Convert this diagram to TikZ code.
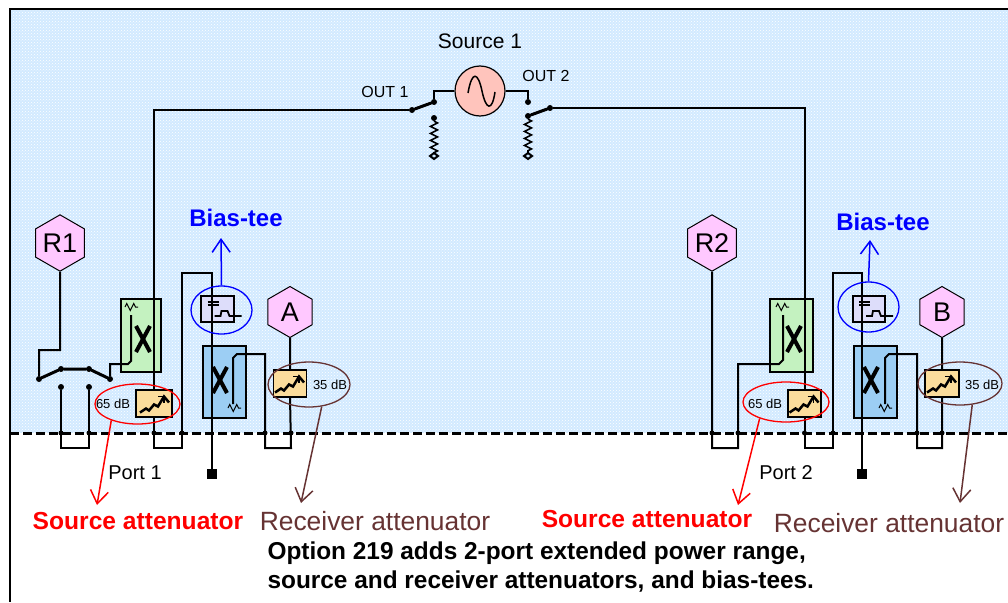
\documentclass[tikz,border=0pt]{standalone}
\usepackage{fontspec}
\usepackage{xcolor}
\setmainfont{Liberation Sans}
\usetikzlibrary{arrows.meta,shapes.geometric,decorations.pathmorphing,patterns}

\definecolor{skyfill}{HTML}{D2EAFF}
\definecolor{greenbox}{HTML}{C4F2C0}
\definecolor{bluebox}{HTML}{9CCEF4}
\definecolor{attfill}{HTML}{FBDD9C}
\definecolor{teefill}{HTML}{DDDDFA}
\definecolor{hexfill}{HTML}{FFC8FF}
\definecolor{srcfill}{HTML}{FFC4BC}
\definecolor{brownish}{HTML}{663333}

\tikzset{
  wire/.style={line width=2pt, color=black},
  armline/.style={line width=3pt, color=black, line cap=round},
  resist/.style={line width=1.6pt, decorate, decoration={zigzag, amplitude=3.5pt, segment length=7pt}},
  contact/.style={circle, fill=black, inner sep=0pt, minimum size=6pt},
  hexnode/.style={regular polygon, regular polygon sides=6, shape border rotate=30, draw=black, line width=1pt,
    fill=hexfill, minimum size=51pt, inner sep=0pt, font=\fontsize{27}{30}\selectfont},
  coupler/.style={rectangle, draw=black, line width=1.5pt, inner sep=0pt},
  attbox/.style={rectangle, draw=black, line width=1.2pt, fill=attfill, inner sep=0pt, minimum height=27pt},
  teebox/.style={rectangle, draw=black, line width=1.2pt, fill=teefill, inner sep=0pt, minimum height=26pt},
  loopred/.style={ellipse, draw=red, line width=1.3pt, inner sep=0pt},
  loopblue/.style={ellipse, draw=blue, line width=1.3pt, inner sep=0pt},
  loopbrown/.style={ellipse, draw=brownish, line width=1.3pt, inner sep=0pt},
  barbtip/.style={-{Straight Barb[length=13pt,width=18pt]}},
  smalltext/.style={font=\fontsize{16}{18}\selectfont},
  porttext/.style={font=\fontsize{20}{22}\selectfont},
  dbtext/.style={font=\fontsize{13}{15}\selectfont},
  teetext/.style={font=\bfseries\fontsize{24}{26}\selectfont, text=blue},
  srclabel/.style={font=\bfseries\fontsize{24.6}{27}\selectfont, text=red},
  rcvlabel/.style={font=\fontsize{26.4}{29}\selectfont, text=brownish},
  notetext/.style={font=\bfseries\fontsize{24.4}{29}\selectfont, align=left, anchor=north west},
  crossmark/.pic={
    \draw[line width=4pt] (-7,-13) -- (7,13);
    \draw[line width=4pt] (7,-13) -- (-7,13);
  },
  attmark/.pic={
    \draw[line width=2.5pt] (-15,9) -- (-9,5) -- (-6,7) -- (-1,1) -- (3,3) -- (9,-7) -- (14,-1);
    \draw[line width=1.5pt] (3,-7) -- (9,-7) -- (9,-1);
  },
  teemark/.pic={
    \draw[line width=1.2pt] (-10,-7) -- (1,-7) (-10,-4) -- (1,-4);
    \draw[line width=1.8pt] (-3,7) -- (3,7) -- (4,2) -- (10,2) -- (12,7) -- (24,7);
  },
}

\begin{document}
\begin{tikzpicture}[x=1pt, y=-1pt]
  \useasboundingbox (0,0) rectangle (1008,602);
  \fill[color=skyfill] (10,10) rectangle (1008,433);
  \fill[pattern=crosshatch dots, pattern color=white] (10,10) rectangle (1008,433);
  \draw[line width=2pt] (1008,9) -- (10,9) -- (10,602); % frame

  % boxes the wires run across
  \node[coupler, fill=greenbox, minimum width=40pt, minimum height=73pt] (cplS1) at (141,335.5) {};
  \node[coupler, fill=bluebox, minimum width=43pt, minimum height=72pt] (cplR1) at (224.5,382) {};
  \node[teebox, minimum width=33pt] (tee1) at (217.5,309) {};
  \node[coupler, fill=greenbox, minimum width=43pt, minimum height=73pt] (cplS2) at (791.5,335.5) {};
  \node[coupler, fill=bluebox, minimum width=43pt, minimum height=72pt] (cplR2) at (875.5,382) {};
  \node[teebox, minimum width=32pt] (tee2) at (869,309) {};

  % source
  \node[circle, draw=black, line width=1.2pt, fill=srcfill, minimum size=50pt, inner sep=0pt] (src) at (480,91) {};
  \draw[line width=1.5pt] (468,93) .. controls (472,70) and (478,72) .. (482,91) .. controls (486,110) and (492,112) .. (495,92);
  \node[font=\fontsize{21}{23}\selectfont] (srcname) at (480,41) {Source 1};
  \node[smalltext] (out1) at (385,92) {OUT 1};
  \node[smalltext] (out2) at (546,76) {OUT 2};
  \node[contact] (swO1) at (412,110) {};
  \node[contact] (swS1) at (434,102) {};
  \node[contact] (swT1) at (434,118) {};
  \node[contact] (swO2) at (550,108) {};
  \node[contact] (swS2) at (528,102) {};
  \node[contact] (swT2) at (528,116) {};
  \coordinate (gnd1) at (434,153);
  \coordinate (gnd2) at (528,153);
  \draw[wire] (src.west) -| (swS1);
  \draw[wire] (src.east) -| (swS2);
  \draw[armline] (swO1) -- (swS1);
  \draw[armline] (swT2) -- (swO2);
  \draw[resist] (swT1) -- (gnd1);
  \draw[resist] (swT2) -- (gnd2);
  \draw[wire, fill=skyfill] (gnd1) -- ++(-4,3) -- ++(4,3) -- ++(4,-3) -- cycle;
  \draw[wire, fill=skyfill] (gnd2) -- ++(-4,3) -- ++(4,3) -- ++(4,-3) -- cycle;

  % attenuators, receivers, ports
  \node[attbox, minimum width=36pt] (attS1) at (154,403.5) {};
  \node[attbox, minimum width=33pt] (attR1) at (290,383.5) {};
  \node[attbox, minimum width=33pt] (attS2) at (804.5,403.5) {};
  \node[attbox, minimum width=34pt] (attR2) at (942,383.5) {};
  \node[hexnode] (r1) at (60,243) {R1};
  \node[hexnode] (a) at (290,312) {A};
  \node[hexnode] (r2) at (712,243) {R2};
  \node[hexnode] (b) at (942,312) {B};
  \node[rectangle, fill=black, minimum size=10pt, inner sep=0pt] (sq1) at (212,474) {};
  \node[rectangle, fill=black, minimum size=10pt, inner sep=0pt] (sq2) at (862,474) {};

  \coordinate (topT1) at (212,273);
  \coordinate (topT2) at (862,273);
  \coordinate (jmpS1) at (182,448);
  \coordinate (jmpS2) at (833,448);
  \coordinate (jmpR1) at (265,354);
  \coordinate (jmpR2) at (917,354);
  \coordinate (inR1) at (233,404);
  \coordinate (inR2) at (885,404);
  \coordinate (inS1) at (131,315);
  \coordinate (inS2) at (783,315);

  % port 1
  \node[contact] (pc1) at (61,387) {};
  \node[contact] (pc2) at (89,387) {};
  \node[contact] (sw1) at (39,379) {};
  \node[contact] (sw2) at (61,369) {};
  \node[contact] (sw3) at (89,369) {};
  \node[contact] (sw4) at (110,379) {};
  \draw[armline] (sw1) -- (sw2) -- (sw3) -- (sw4);
  \draw[wire] (r1.south) -- (60,350) -| (sw1);
  \draw[wire] (sw4) |- (128,364) -- (131,361) -- (inS1);
  \draw[wire] (pc1) |- (89,448) -- (pc2);
  \draw[wire] (swO1) -| (attS1.north);
  \draw[wire] (attS1.south) |- (jmpS1) |- (topT1) -- (sq1.north);
  \draw[wire] (inR1) -- (233,358) -- (237,354) -- (jmpR1) |- (291,448) -- (attR1.south);
  \draw[wire] (attR1.north) -- (a.south);

  % port 2
  \draw[wire] (r2.south) |- (738,448) |- (779,364) -- (783,360) -- (inS2);
  \draw[wire] (swO2) -| (attS2.north);
  \draw[wire] (attS2.south) |- (jmpS2) |- (topT2) -- (sq2.north);
  \draw[wire] (inR2) -- (885,358) -- (889,354) -- (jmpR2) |- (942,448) -- (attR2.south);
  \draw[wire] (attR2.north) -- (b.south);

  % inner marks of the boxes
  \pic at (143,339) {crossmark};
  \pic at (220,380) {crossmark};
  \pic at (794,339) {crossmark};
  \pic at (871,380) {crossmark};
  \pic at (155,403.5) {attmark};
  \pic at (290,383.5) {attmark};
  \pic at (804.5,403.5) {attmark};
  \pic at (942,383.5) {attmark};
  \pic at (217.5,309) {teemark};
  \pic at (869,309) {teemark};
  \draw[resist, line width=1pt] (125,307) -- (138,307);
  \draw[resist, line width=1pt] (776,307) -- (789,307);
  \draw[resist, line width=1pt] (228,408) -- (241,408);
  \draw[resist, line width=1pt] (879,408) -- (892,408);

  \draw[dashed, dash pattern=on 9pt off 4pt, line width=3pt] (10,433) -- (1008,433); % test plane
  \foreach \x in {61,89,154,182,265,291,712,738,804.5,833,917,942}
    \fill (\x,433) circle (2.5);

  \node[porttext] (port1) at (135,473) {Port 1};
  \node[porttext] (port2) at (786,473) {Port 2};
  \node[dbtext] (db1) at (113,404) {65 dB};
  \node[dbtext] (db2) at (330,385) {35 dB};
  \node[dbtext] (db3) at (765,404) {65 dB};
  \node[dbtext] (db4) at (982,385) {35 dB};

  % callouts
  \node[loopred, minimum width=85pt, minimum height=40pt] (ellS1) at (137.5,404) {};
  \node[loopbrown, minimum width=82pt, minimum height=45pt] (ellR1) at (309,384.5) {};
  \node[loopblue, minimum width=61pt, minimum height=48pt] (ellT1) at (221.5,310) {};
  \node[loopred, minimum width=86pt, minimum height=40pt] (ellS2) at (786,402) {};
  \node[loopbrown, minimum width=84pt, minimum height=43pt] (ellR2) at (960,383.5) {};
  \node[loopblue, minimum width=61pt, minimum height=50pt] (ellT2) at (868.5,307) {};

  \node[srclabel] (lblS1) at (138,521) {Source attenuator};
  \node[rcvlabel] (lblR1) at (375,521) {Receiver attenuator};
  \node[srclabel] (lblS2) at (647,519) {Source attenuator};
  \node[rcvlabel] (lblR2) at (889,523) {Receiver attenuator};
  \node[teetext] (lblT1) at (236,218) {Bias-tee};
  \node[teetext] (lblT2) at (883,222) {Bias-tee};
  \node[notetext] (note) at (264,538) {Option 219 adds 2-port extended power range,\\source and receiver attenuators, and bias-tees.};

  \coordinate (tipS1) at (97,505);
  \coordinate (tipR1) at (301,503);
  \coordinate (tipS2) at (738,505);
  \coordinate (tipR2) at (960,503);
  \coordinate (tipT1) at (221,238);
  \coordinate (tipT2) at (870,240);
  \draw[barbtip, color=red, line width=1.5pt] (ellS1.212) -- (tipS1);
  \draw[barbtip, color=brownish, line width=1.5pt] (ellR1.-60) -- (tipR1);
  \draw[barbtip, color=red, line width=1.5pt] (ellS2.212) -- (tipS2);
  \draw[barbtip, color=brownish, line width=1.5pt] (ellR2.-60) -- (tipR2);
  \draw[barbtip, color=blue, line width=1.5pt] (ellT1.north) -- (tipT1);
  \draw[barbtip, color=blue, line width=1.5pt] (ellT2.north) -- (tipT2);
\end{tikzpicture}
\end{document}
